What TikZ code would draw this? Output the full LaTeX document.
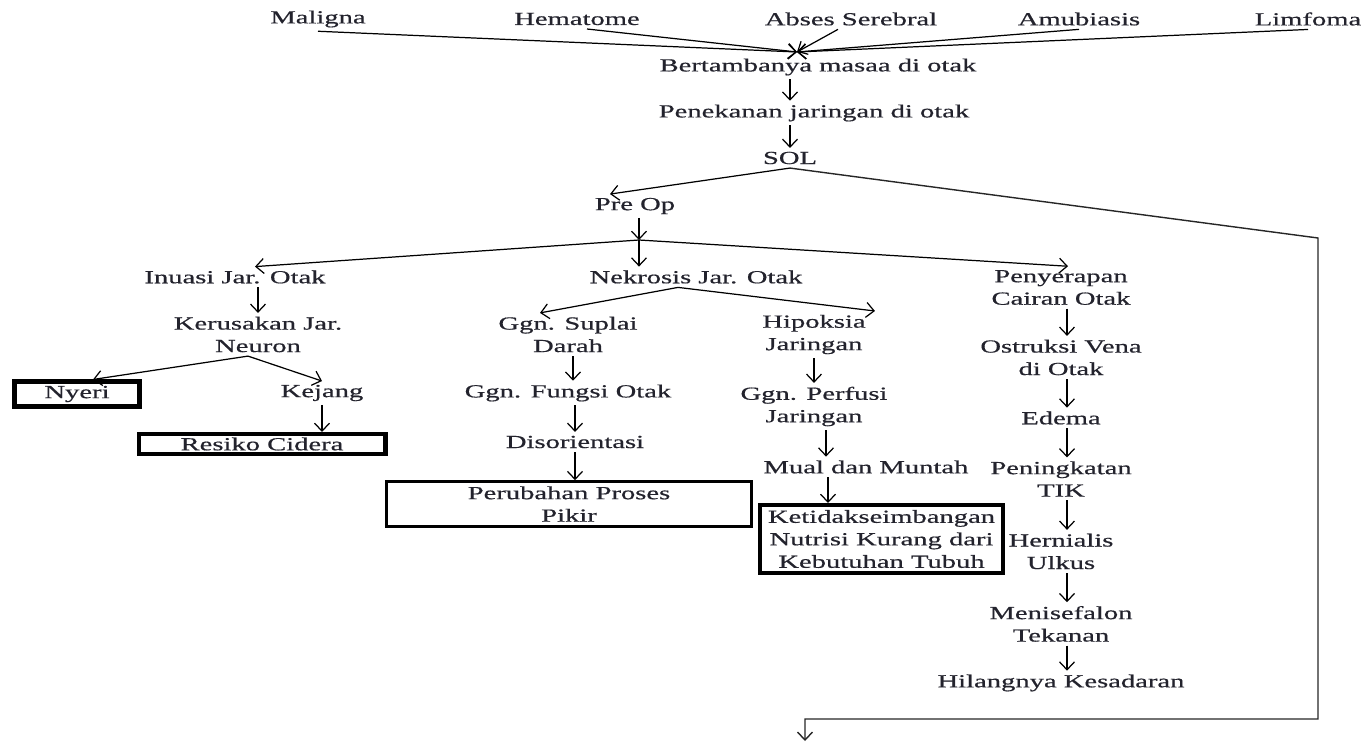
\documentclass[tikz,border=0pt]{standalone}
\usepackage{fontspec}
\setmainfont{Liberation Serif}[FakeStretch=1.55, FakeBold=0.6]
\usepackage{tikz}
\usetikzlibrary{positioning, arrows.meta}
\definecolor{ink}{RGB}{35,35,45}

\begin{document}
\begin{tikzpicture}[x=0.02cm, y=-0.02cm, node distance=1.2cm,
	lbl/.style={font=\fontsize{10.5}{12.8}\selectfont, text=ink, align=center, inner sep=2pt},
	tbox/.style={lbl, draw, line width=2.3pt},
	pbox/.style={lbl, draw, line width=1.5pt},
	arr/.style={-{Straight Barb[length=4.5pt,width=8.5pt]}, line width=0.7pt}]
	\useasboundingbox (0,0) rectangle (1366,744);

	\node[lbl] (mal) at (318,19) {Maligna};
	\node[lbl] (hem) at (577,19) {Hematome};
	\node[lbl] (abs) at (851,19) {Abses Serebral};
	\node[lbl] (amu) at (1079,19) {Amubiasis};
	\node[lbl] (lim) at (1308,19) {Limfoma};
	\coordinate (cv) at (797,52);

	\node[lbl] (bm) at (818,67) {Bertambanya masaa di otak};
	\node[lbl] (pj) at (814,113) {Penekanan jaringan di otak};
	\node[lbl] (sol) at (790,158) {SOL};
	\node[lbl] (pre) at (635,206) {Pre Op};
	\coordinate (jn) at (639,240);
	\coordinate (cr) at (1318,238);
	\coordinate (bk) at (805,719);
	\coordinate (fin) at (805,741);

	\node[lbl] (inu) at (235,277) {Inuasi Jar. Otak};
	\node[lbl] (ker) at (258,334.5) {Kerusakan Jar.\\Neuron};
	\node[tbox, minimum width=2.5cm, minimum height=0.5cm] (nyeri) at (77,394) {Nyeri};
	\node[lbl] (kej) at (322,393) {Kejang};
	\node[tbox, minimum width=4.94cm] (res) at (262,444) {Resiko Cidera};

	\node[lbl] (nek) at (696,277) {Nekrosis Jar. Otak};
	\node[lbl] (sup) at (568,334.5) {Ggn. Suplai\\Darah};
	\node[lbl, below of=sup, node distance=1.17cm] (fun) {Ggn. Fungsi Otak};
	\node[lbl] (dis) at (575,442) {Disorientasi};
	\node[pbox, minimum width=7.3cm, minimum height=0.9cm] (per) at (569,504) {Perubahan Proses\\Pikir};
	\node[lbl] (hip) at (814,334.5) {Hipoksia\\Jaringan};
	\node[lbl, below of=hip, node distance=1.44cm] (gpf) {Ggn. Perfusi\\Jaringan};
	\node[lbl] (mual) at (866,467) {Mual dan Muntah};
	\node[tbox, minimum width=4.86cm, minimum height=1.36cm] (ket) at (881.5,539) {Ketidakseimbangan\\Nutrisi Kurang dari\\Kebutuhan Tubuh};

	\node[lbl] (pen) at (1061,287.5) {Penyerapan\\Cairan Otak};
	\node[lbl, below of=pen, node distance=1.4cm] (ost) {Ostruksi Vena\\di Otak};
	\node[lbl, below of=ost, node distance=1.21cm] (ede) {Edema};
	\node[lbl, below of=ede, node distance=1.22cm] (tik) {Peningkatan\\TIK};
	\node[lbl, below of=tik, node distance=1.45cm] (her) {Hernialis\\Ulkus};
	\node[lbl, below of=her, node distance=1.45cm] (men) {Menisefalon\\Tekanan};
	\node[lbl, below of=men, node distance=1.18cm] (hil) {Hilangnya Kesadaran};

	\draw (mal.south) edge[arr] (cv);
	\draw ([xshift=0.2cm]hem.south) edge[arr] (cv);
	\draw ([xshift=-0.26cm]abs.south) edge[arr] (cv);
	\draw (amu.south) edge[arr] (cv);
	\draw (lim.south) edge[arr] (cv);

	\draw (bm.south -| sol) edge[arr] (pj.north -| sol);
	\draw (pj.south -| sol) edge[arr] (sol.north);
	\draw (sol.south) edge[arr] ([xshift=-0.5cm]pre.north);
	\draw[arr, line width=0.8pt, black!85] (sol.south) -- (cr) |- (bk) -- (fin);

	\draw (pre.south -| jn) edge[arr] (jn);
	\draw (jn) edge[arr] (nek.north -| jn);
	\draw (jn) edge[arr] ([xshift=0.4cm]inu.north);
	\draw (jn) edge[arr] ([xshift=0.14cm]pen.north);

	\draw (inu.south -| ker) edge[arr] (ker.north);
	\draw ([xshift=-0.2cm]ker.south) edge[arr] ([xshift=0.32cm]nyeri.north);
	\draw ([xshift=-0.2cm]ker.south) edge[arr] (kej.north);
	\draw (kej.south) edge[arr] (kej.south |- res.north);

	\draw ([xshift=-0.36cm]nek.south) edge[arr] ([xshift=-0.56cm]sup.north);
	\draw ([xshift=-0.36cm]nek.south) edge[arr] ([xshift=1.22cm]hip.north);
	\draw ([xshift=0.1cm]sup.south) edge[arr] ([xshift=0.1cm]fun.north);
	\draw (fun.south -| dis) edge[arr] (dis.north);
	\draw (dis.south) edge[arr] (dis.south |- per.north);
	\draw (hip.south) edge[arr] (gpf.north);
	\draw ([xshift=0.24cm]gpf.south) edge[arr] ([xshift=0.24cm]mual.north -| gpf);
	\draw ([xshift=-0.76cm]mual.south) edge[arr] ([xshift=-0.76cm]mual.south |- ket.north);

	\draw ([xshift=0.12cm]pen.south) edge[arr] ([xshift=0.12cm]ost.north);
	\draw ([xshift=0.12cm]ost.south) edge[arr] ([xshift=0.12cm]ede.north);
	\draw ([xshift=0.12cm]ede.south) edge[arr] ([xshift=0.12cm]tik.north);
	\draw ([xshift=0.12cm]tik.south) edge[arr] ([xshift=0.12cm]her.north);
	\draw ([xshift=0.12cm]her.south) edge[arr] ([xshift=0.12cm]men.north);
	\draw ([xshift=0.12cm]men.south) edge[arr] ([xshift=0.12cm]hil.north);
\end{tikzpicture}
\end{document}
